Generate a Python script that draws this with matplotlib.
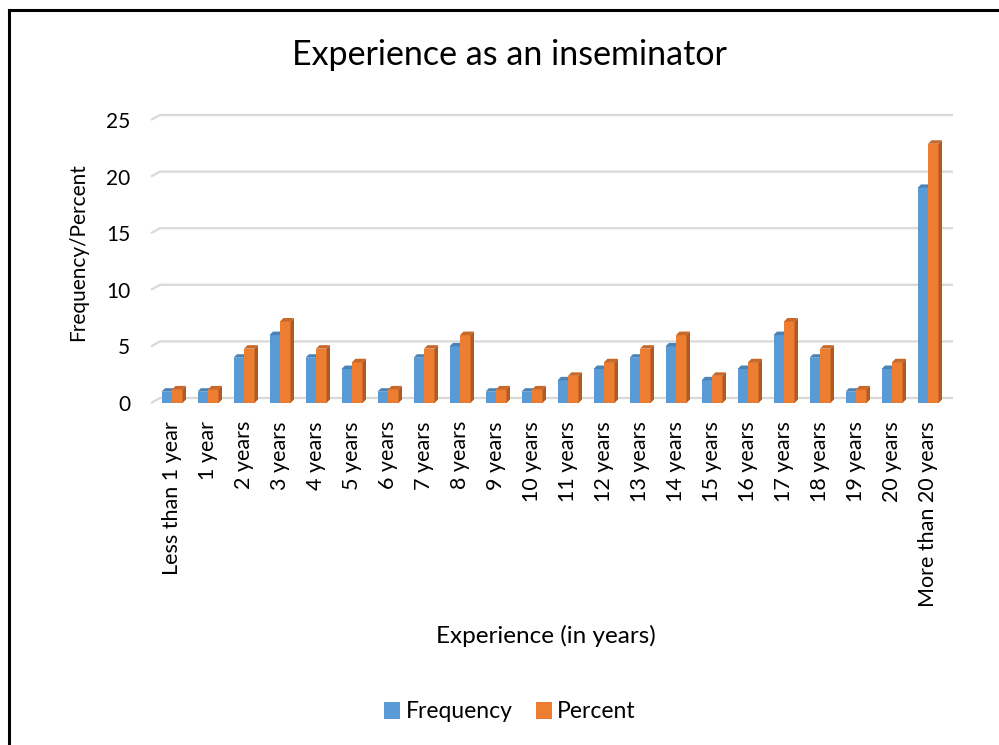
import matplotlib
matplotlib.use("Agg")
import matplotlib.pyplot as plt
from matplotlib.patches import Polygon, Rectangle
from matplotlib.lines import Line2D

categories = ["Less than 1 year", "1 year", "2 years", "3 years", "4 years", "5 years",
              "6 years", "7 years", "8 years", "9 years", "10 years", "11 years",
              "12 years", "13 years", "14 years", "15 years", "16 years", "17 years",
              "18 years", "19 years", "20 years", "More than 20 years"]
frequency = [1, 1, 4, 6, 4, 3, 1, 4, 5, 1, 1, 2, 3, 4, 5, 2, 3, 6, 4, 1, 3, 19]
percent = [1.2, 1.2, 4.8, 7.2, 4.8, 3.6, 1.2, 4.8, 6.0, 1.2, 1.2, 2.4, 3.6, 4.8, 6.0,
           2.4, 3.6, 7.2, 4.8, 1.2, 3.6, 22.9]
yticks = [0, 5, 10, 15, 20, 25]
series_names = ["Frequency", "Percent"]

FONT = "Lato"
W, H = 999, 745
fig = plt.figure(figsize=(W / 100, H / 100), dpi=100)

# axes placement in pixels (front plane)
ax_l, ax_r, ax_t, ax_b = 151, 944, 120, 403
ax = fig.add_axes([ax_l / W, 1 - ax_b / H, (ax_r - ax_l) / W, (ax_b - ax_t) / H])
xmin, xmax = (151 - 172) / 36.0, (944 - 172) / 36.0
ax.set_xlim(xmin, xmax)
ax.set_ylim(0, 25)
for s in ax.spines.values():
    s.set_visible(False)
ax.patch.set_alpha(0)

px_x = (ax_r - ax_l) / (xmax - xmin)   # pixels per x unit
px_y = (ax_b - ax_t) / 25.0            # pixels per y unit

# back-wall gridlines with 3D slant
gdx, gdy = 9 / px_x, 5 / px_y
for t in yticks:
    ax.plot([xmin, xmin + gdx, xmax + gdx], [t, t + gdy, t + gdy], color="#d9d9d9",
            lw=1.6, clip_on=False, zorder=1, solid_capstyle="butt")

colors = {"Frequency": ("#5b9bd5", "#4a83b8", "#41719c"),
          "Percent": ("#ed7d31", "#c8682a", "#ae5a21")}
bw = 10.5 / px_x
ddx, ddy = 3.5 / px_x, 3.5 / px_y
for idx, (name, vals) in enumerate(zip(series_names, [frequency, percent])):
    front, top, side = colors[name]
    off = -bw if idx == 0 else 0
    for i, v in enumerate(vals):
        x0 = i + off
        x1 = x0 + bw
        ax.add_patch(Rectangle((x0, 0), bw, v, facecolor=front, edgecolor="none",
                               zorder=3 + idx, clip_on=False))
        ax.add_patch(Polygon([(x0, v), (x0 + ddx, v + ddy), (x1 + ddx, v + ddy), (x1, v)],
                             facecolor=top, edgecolor="none", zorder=3 + idx, clip_on=False))
        ax.add_patch(Polygon([(x1, 0), (x1 + ddx, ddy), (x1 + ddx, v + ddy), (x1, v)],
                             facecolor=side, edgecolor="none", zorder=3 + idx, clip_on=False))

ax.set_xticks(range(len(categories)))
ax.set_xticklabels(categories, rotation=90, fontsize=15.5, family=FONT, color="#000000")
ax.set_yticks(yticks)
ax.set_yticklabels([str(t) for t in yticks], fontsize=15, family=FONT)
ax.tick_params(axis="both", length=0)
ax.tick_params(axis="x", pad=13)
ax.tick_params(axis="y", pad=15)

fig.text(78 / W, 1 - 252 / H, "Frequency/Percent", ha="center", va="center",
         rotation=90, fontsize=15, family=FONT)
fig.text(546 / W, 1 - 636 / H, "Experience (in years)", ha="center", va="center",
         fontsize=17.5, family=FONT)
fig.text(509 / W, 1 - 55 / H, "Experience as an inseminator", ha="center", va="center",
         fontsize=24.5, family=FONT)

handles = [Rectangle((0, 0), 1, 1, facecolor=colors[n][0]) for n in series_names]
fig.legend(handles, series_names, loc="center", bbox_to_anchor=(510 / W, 1 - 712 / H),
           ncol=2, frameon=False, prop={"family": FONT, "size": 16.5},
           handlelength=0.7, handleheight=0.7, handletextpad=0.25, columnspacing=1.0)

# outer border (top and left)
fig.add_artist(Line2D([9 / W, 9 / W], [0, 1 - 10 / H], color="black", lw=2.2,
                      transform=fig.transFigure))
fig.add_artist(Line2D([9 / W, 1], [1 - 10 / H, 1 - 10 / H], color="black", lw=2.2,
                      transform=fig.transFigure))

fig.savefig("out.png", dpi=100)
